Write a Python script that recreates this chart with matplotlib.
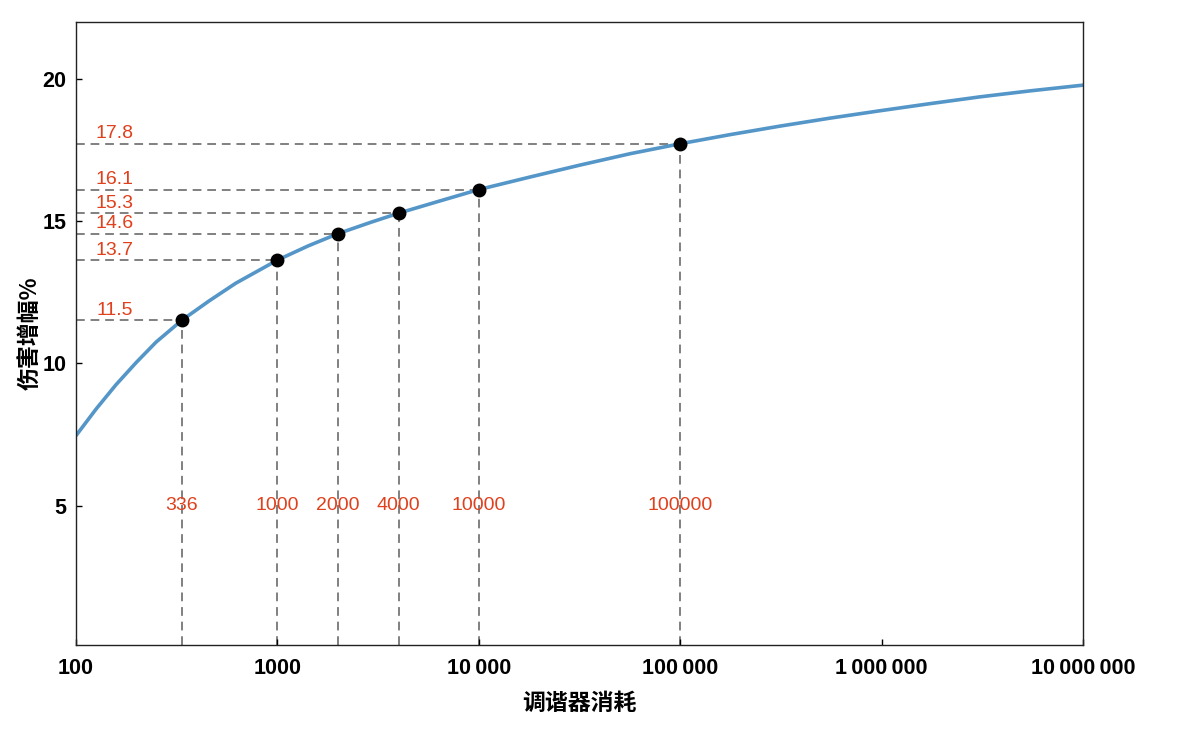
import matplotlib
matplotlib.use("Agg")
import matplotlib.pyplot as plt
from matplotlib.ticker import FixedLocator, FuncFormatter, NullLocator

plt.rcParams['font.family'] = ['Liberation Sans', 'Noto Sans CJK SC', 'DejaVu Sans']

# curve
curve_x = [100, 126, 158, 199, 250, 336, 459, 622, 1000, 1422, 2000,
           2884, 4000, 6412, 10000, 17950, 31800, 56400, 100000, 176600,
           313000, 554000, 982000, 1740000, 3090000, 5470000, 10000000]
curve_y = [7.46, 8.40, 9.25, 10.03, 10.75, 11.52, 12.2, 12.82, 13.63,
           14.13, 14.56, 14.95, 15.28, 15.71, 16.11, 16.55, 16.97, 17.37,
           17.72, 18.04, 18.34, 18.62, 18.88, 19.13, 19.37, 19.58, 19.78]

# marked points
pt_x = [336, 1000, 2000, 4000, 10000, 100000]
pt_y = [11.52, 13.63, 14.56, 15.28, 16.11, 17.72]
pt_ylabels = ["11.5", "13.7", "14.6", "15.3", "16.1", "17.8"]
pt_xlabels = ["336", "1000", "2000", "4000", "10000", "100000"]

xticks = [100, 1000, 10000, 100000, 1000000, 10000000]
yticks = [5, 10, 15, 20]

fig = plt.figure(figsize=(11.92, 7.38), dpi=100)
ax = fig.add_axes([76 / 1192, 1 - 645 / 738, 1007 / 1192, 623 / 738])

ax.set_xscale('log')
ax.set_xlim(100, 10000000)
ax.set_ylim(0.1, 22)

ax.plot(curve_x, curve_y, color='#5596c8', lw=2.6, zorder=2,
        solid_joinstyle='round', solid_capstyle='round')

grey = '#808080'
red = '#e0401c'
for x, y, ly, lx in zip(pt_x, pt_y, pt_ylabels, pt_xlabels):
    ax.plot([100, x], [y, y], ls=(0, (4.5, 3)), color=grey, lw=1.4, zorder=1)
    ax.plot([x, x], [0.1, y], ls=(0, (4.5, 3)), color=grey, lw=1.4, zorder=1)
    ax.text(155, y + 0.05, ly, color=red, fontsize=14, ha='center', va='bottom')
    ax.text(x, 5, lx, color=red, fontsize=14, ha='center', va='center')

ax.plot(pt_x, pt_y, 'o', color='black', ms=9, zorder=3)


def fmt(v, pos):
    v = int(round(v))
    if v < 10000:
        return str(v)
    return f"{v:,}".replace(",", "\u2009")


ax.xaxis.set_major_locator(FixedLocator(xticks))
ax.xaxis.set_minor_locator(NullLocator())
ax.xaxis.set_major_formatter(FuncFormatter(fmt))
ax.set_yticks(yticks)

ax.tick_params(direction='in', length=4, width=1, labelsize=15.5)
ax.tick_params(axis='x', pad=9)
ax.tick_params(axis='y', pad=7)
for lab in ax.get_xticklabels() + ax.get_yticklabels():
    lab.set_fontweight('bold')

for s in ax.spines.values():
    s.set_linewidth(1)
    s.set_color('#222222')

ax.set_xlabel("调谐器消耗", fontsize=16.5, fontweight='bold',
              family=['Noto Sans CJK SC', 'DejaVu Sans'], labelpad=10)
ax.set_ylabel("伤害增幅%", fontsize=16.5, fontweight='bold',
              family=['Noto Sans CJK SC', 'DejaVu Sans'], labelpad=0)

fig.savefig("out.png", dpi=100)
